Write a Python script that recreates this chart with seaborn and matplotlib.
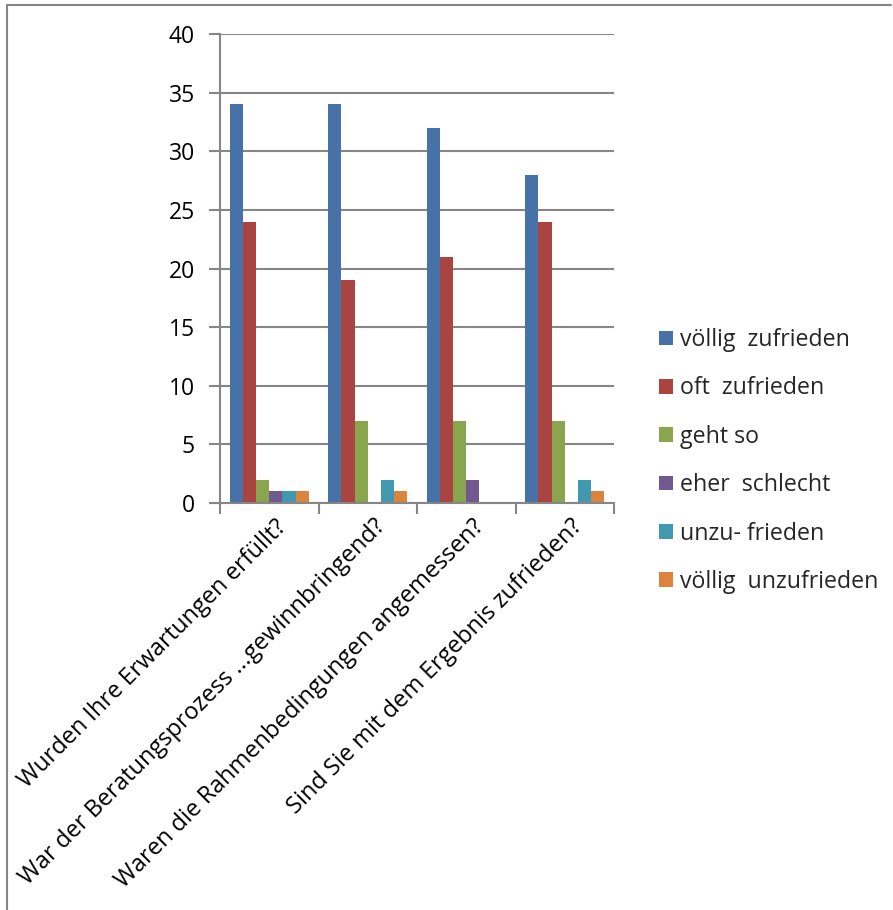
import matplotlib
matplotlib.use("Agg")
import matplotlib.pyplot as plt
import seaborn as sns
import pandas as pd
from matplotlib.lines import Line2D
from matplotlib.patches import Patch

categories = [
    "Wurden Ihre Erwartungen erfüllt?",
    "War der Beratungsprozess ...gewinnbringend?",
    "Waren die Rahmenbedingungen angemessen?",
    "Sind Sie mit dem Ergebnis zufrieden?",
]
series = ["völlig  zufrieden", "oft  zufrieden", "geht so", "eher  schlecht", "unzu- frieden", "völlig  unzufrieden"]
voellig_zufrieden = [34, 34, 32, 28]
oft_zufrieden = [24, 19, 21, 24]
geht_so = [2, 7, 7, 7]
eher_schlecht = [1, 0, 2, 0]
unzufrieden = [1, 2, 0, 2]
voellig_unzufrieden = [1, 1, 0, 1]
yticks = [0, 5, 10, 15, 20, 25, 30, 35, 40]

colors = ["#4672A8", "#A94441", "#89A54E", "#71588F", "#4298AF", "#DB843D"]

values = [voellig_zufrieden, oft_zufrieden, geht_so, eher_schlecht, unzufrieden, voellig_unzufrieden]
rows = []
for s, vals in zip(series, values):
    for c, v in zip(categories, vals):
        rows.append({"Kategorie": c, "Serie": s, "Wert": v})
df = pd.DataFrame(rows)

sns.set_theme(style="white")
plt.rcParams["font.family"] = ["Open Sans", "DejaVu Sans"]

fig = plt.figure(figsize=(8.93, 9.10), dpi=100)
ax = fig.add_axes([220 / 893, 1 - 503 / 910, 394 / 893, 469 / 910])

sns.barplot(data=df, x="Kategorie", y="Wert", hue="Serie", order=categories,
            hue_order=series, palette=colors, width=0.8, saturation=1,
            linewidth=0, ax=ax, legend=False)

grid_c = "#868686"
ax.set_ylim(0, 40)
ax.set_xlim(-0.5, 3.5)
ax.set_yticks(yticks)
ax.set_yticklabels([str(t) for t in yticks])
ax.yaxis.grid(True, color=grid_c, linewidth=1.5)
ax.set_axisbelow(True)
ax.set_xlabel("")
ax.set_ylabel("")
for side in ["top", "right"]:
    ax.spines[side].set_visible(False)
for side in ["left", "bottom"]:
    ax.spines[side].set_color(grid_c)
    ax.spines[side].set_linewidth(1.5)

ax.tick_params(axis="y", which="major", length=8, width=1.5, color=grid_c, pad=10,
               labelsize=16.5, labelcolor="black", left=True)
ax.set_xticks(range(len(categories)))
ax.set_xticklabels([])
ax.set_xticks([-0.5, 0.5, 1.5, 2.5, 3.5], minor=True)
ax.tick_params(axis="x", which="minor", length=8, width=1.5, color=grid_c, bottom=True)
ax.tick_params(axis="x", which="major", length=0)

for i, c in enumerate(categories):
    ax.annotate(c, xy=(i, 0), xycoords=("data", "axes fraction"),
                xytext=(6, -12), textcoords="offset pixels",
                rotation=45, rotation_mode="anchor", ha="right", va="top",
                fontsize=17, color="black")

handles = [Patch(facecolor=col, edgecolor="none") for col in colors]
fig.legend(handles, series, loc="center left", bbox_to_anchor=(650 / 893, 1 - 461 / 910),
           frameon=False, fontsize=16.7, handlelength=0.6, handleheight=0.6,
           handletextpad=0.3, labelspacing=1.05, borderaxespad=0)

fig.add_artist(Line2D([7 / 893, 7 / 893], [0, 1 - 5 / 910], transform=fig.transFigure,
                      color=grid_c, linewidth=1.5))
fig.add_artist(Line2D([7 / 893, 891 / 893], [1 - 5 / 910, 1 - 5 / 910], transform=fig.transFigure,
                      color=grid_c, linewidth=1.5))

fig.savefig("out.png", dpi=100, facecolor="white")
